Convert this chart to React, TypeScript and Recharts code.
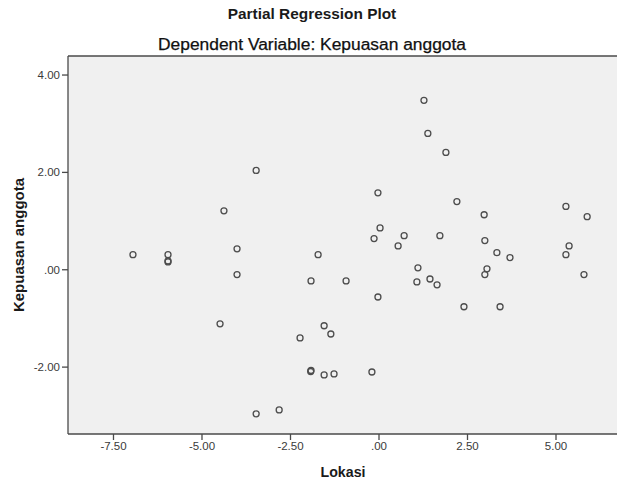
import React from 'react';
import { ScatterChart, Scatter, XAxis, YAxis, CartesianGrid, ReferenceLine } from 'recharts';

const lokasi = [
  -6.95, -5.96, -5.96, -5.96, -4.38, -4.01, -4.01, -4.49, -3.47, -3.47,
  -2.82, -2.23, -1.92, -1.72, -1.92, -1.93, -1.55, -1.36, -1.55, -1.27,
  -0.93, -0.2, -0.14, -0.03, 0.03, -0.03, 0.54, 0.71, 1.1, 1.07,
  1.27, 1.38, 1.44, 1.64, 1.72, 1.89, 2.2, 2.4, 2.97, 2.99,
  3.05, 2.99, 3.33, 3.42, 3.7, 5.28, 5.37, 5.28, 5.79, 5.88,
];
const kepuasan = [
  0.31, 0.31, 0.16, 0.18, 1.21, 0.43, -0.1, -1.11, 2.04, -2.96,
  -2.88, -1.4, -0.23, 0.31, -2.07, -2.09, -1.15, -1.32, -2.16, -2.14,
  -0.23, -2.1, 0.64, 1.58, 0.86, -0.56, 0.49, 0.7, 0.04, -0.25,
  3.48, 2.8, -0.19, -0.31, 0.7, 2.41, 1.4, -0.76, 1.13, 0.6,
  0.02, -0.1, 0.35, -0.76, 0.25, 1.3, 0.49, 0.31, -0.1, 1.09,
];
const xTicks = [-7.5, -5, -2.5, 0, 2.5, 5];
const yTicks = [-2, 0, 2, 4];
const xDomain: [number, number] = [-8.785, 6.723];
const yDomain: [number, number] = [-3.374, 4.391];

const data = lokasi.map((x, i) => ({ x, y: kepuasan[i] }));

const fmt = (v: number) => {
  const s = Math.abs(v).toFixed(2);
  const t = s.startsWith('0') ? s.slice(1) : s;
  return (v < 0 ? '-' : '') + t;
};

const AXIS = '#4a4a4a';
const tickStyle = { fill: '#3a3a3a', fontSize: 11.5, fontFamily: 'Liberation Sans, Arial, sans-serif' };

const Dot = (props: any) => {
  const { cx, cy } = props;
  if (cx == null || cy == null) return null;
  return <circle cx={cx} cy={cy} r={3} fill="none" stroke="#4d4d4d" strokeWidth={1.3} />;
};

export default function App() {
  return (
    <div style={{ position: 'absolute', left: 0, top: 0, width: 617, height: 481, background: '#fff' }}>
      <ScatterChart width={617} height={481} margin={{ top: 56, right: 0, bottom: 0, left: 0 }}>
        <CartesianGrid fill="#f0f0f0" horizontal={false} vertical={false} />
        <XAxis
          type="number"
          dataKey="x"
          domain={xDomain}
          ticks={xTicks}
          allowDataOverflow
          height={47}
          tickFormatter={fmt}
          tick={tickStyle}
          tickSize={6}
          stroke={AXIS}
          axisLine={{ stroke: AXIS, strokeWidth: 1.3 }}
          tickLine={{ stroke: AXIS, strokeWidth: 1.3 }}
          interval={0}
        />
        <YAxis
          type="number"
          dataKey="y"
          domain={yDomain}
          ticks={yTicks}
          allowDataOverflow
          width={68}
          tickFormatter={fmt}
          tick={tickStyle}
          tickSize={6}
          stroke={AXIS}
          axisLine={{ stroke: AXIS, strokeWidth: 1.3 }}
          tickLine={{ stroke: AXIS, strokeWidth: 1.3 }}
          interval={0}
        />
        <ReferenceLine y={yDomain[1]} stroke={AXIS} strokeWidth={1.5} ifOverflow="visible" />
        <Scatter data={data} shape={Dot} isAnimationActive={false} />
      </ScatterChart>
      <svg width={617} height={481} style={{ position: 'absolute', left: 0, top: 0, pointerEvents: 'none' }}>
        <text x={312} y={19} textAnchor="middle" fontFamily="Liberation Sans, Arial, sans-serif" fontWeight="bold" fontSize={15.4} fill="#1a1a1a">
          Partial Regression Plot
        </text>
        <text x={312} y={50} textAnchor="middle" fontFamily="Liberation Sans, Arial, sans-serif" fontSize={15.8} fill="#111" stroke="#111" strokeWidth={0.25} textLength={308} lengthAdjust="spacingAndGlyphs">
          Dependent Variable: Kepuasan anggota
        </text>
        <text x={343} y={477} textAnchor="middle" fontFamily="Liberation Sans, Arial, sans-serif" fontWeight="bold" fontSize={15} fill="#1a1a1a" textLength={45} lengthAdjust="spacingAndGlyphs">
          Lokasi
        </text>
        <text x={24} y={245} textAnchor="middle" transform="rotate(-90 24 245)" fontFamily="Liberation Sans, Arial, sans-serif" fontWeight="bold" fontSize={15} fill="#1a1a1a">
          Kepuasan anggota
        </text>
      </svg>
    </div>
  );
}
